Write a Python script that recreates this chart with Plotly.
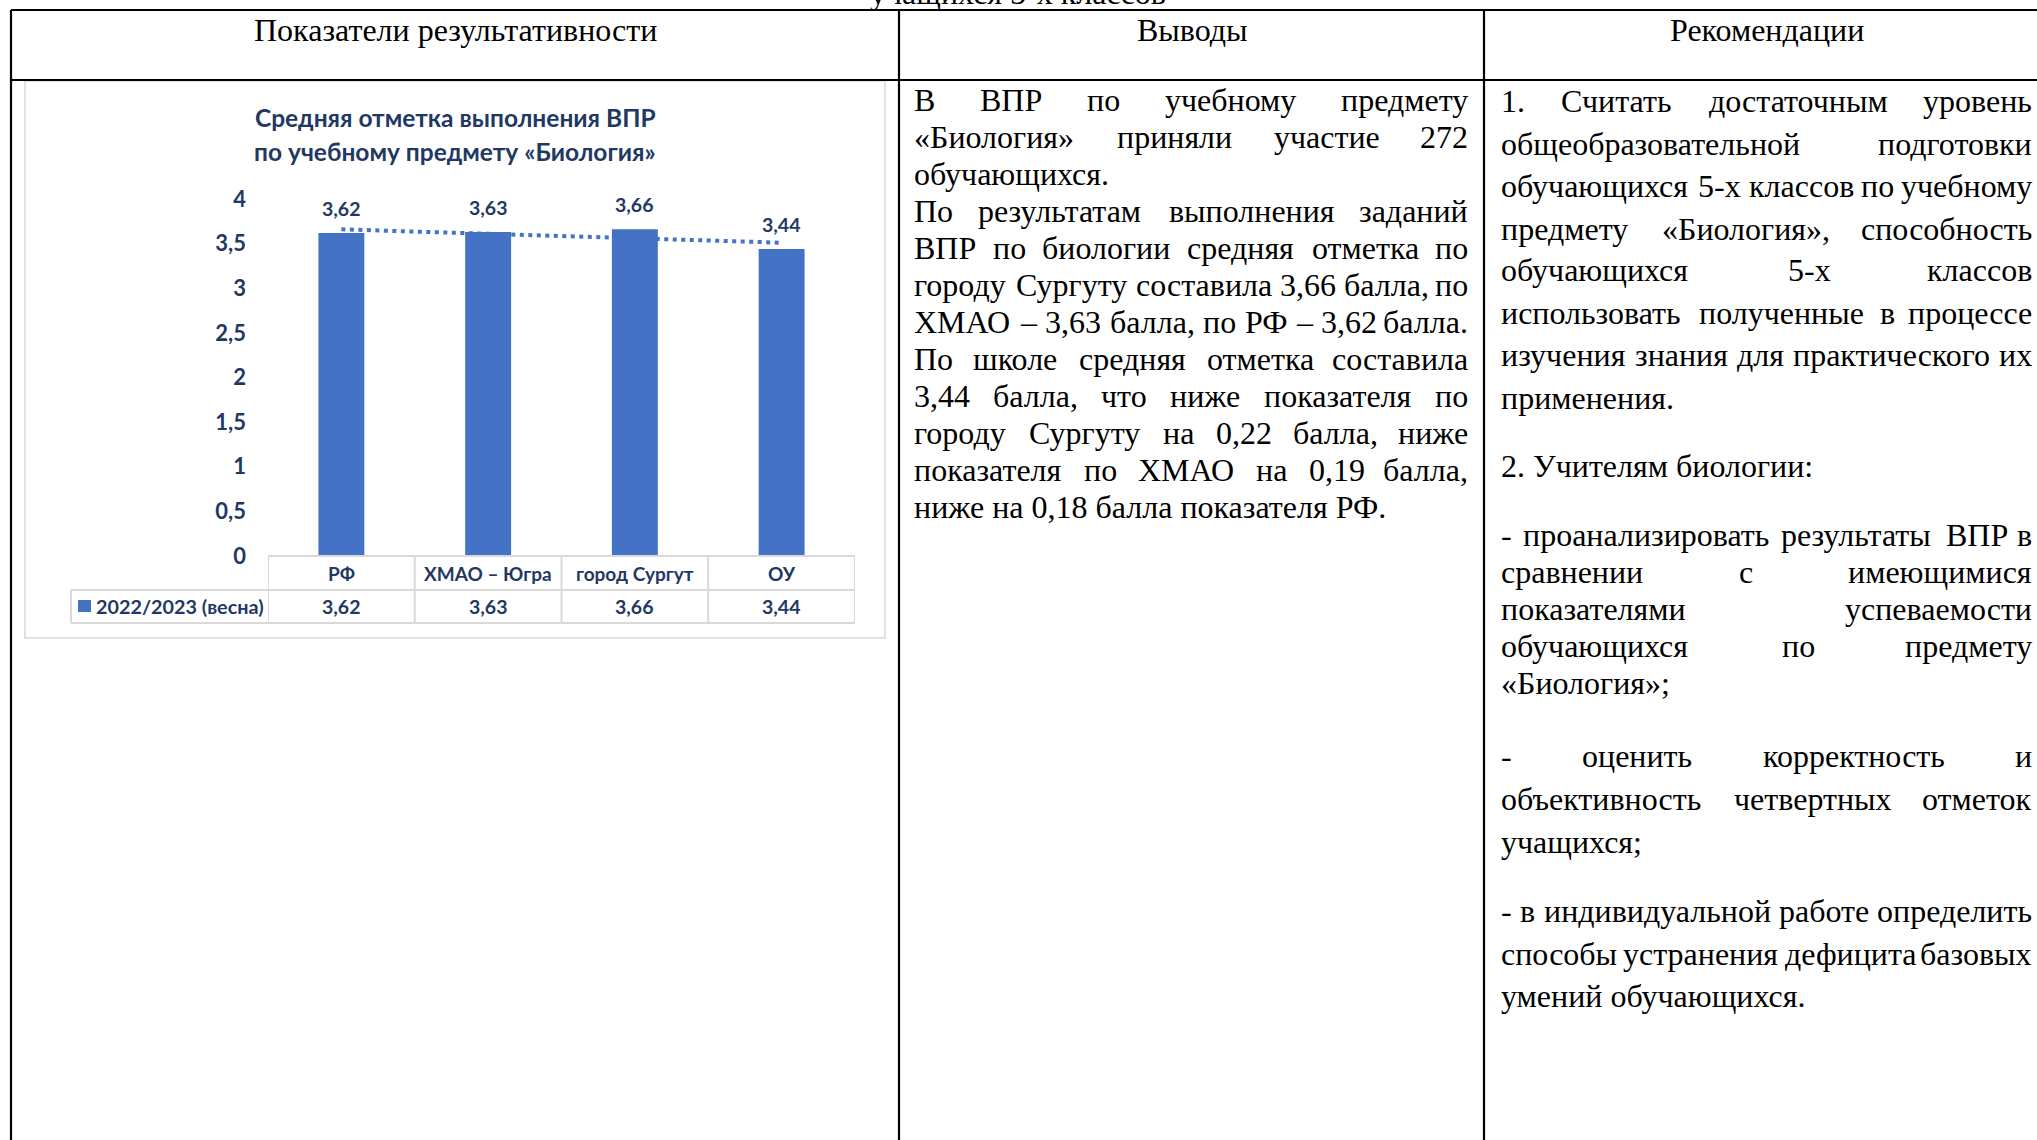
import plotly.graph_objects as go

W, H = 2037, 1140

# ---------------- chart data ----------------
categories = ["РФ", "ХМАО – Югра", "город Сургут", "ОУ"]
values = [3.62, 3.63, 3.66, 3.44]
series_name = "2022/2023 (весна)"
trend_values = [3.66, 3.51]          # dotted trendline read at РФ and ОУ
y_ticks = [0, 0.5, 1, 1.5, 2, 2.5, 3, 3.5, 4]
chart_title = ["Средняя отметка выполнения ВПР", "по учебному предмету «Биология»"]

# ---------------- document text ----------------
headers = ["Показатели результативности", "Выводы", "Рекомендации"]
top_cut_text = "учащихся 5-х классов"

conclusion_lines = [
    ("В ВПР по учебному предмету", True),
    ("«Биология» приняли участие 272", True),
    ("обучающихся.", False),
    ("По результатам выполнения заданий", True),
    ("ВПР по биологии средняя отметка по", True),
    ("городу Сургуту составила 3,66 балла, по", True),
    ("ХМАО – 3,63 балла, по РФ – 3,62 балла.", True),
    ("По школе средняя отметка составила", True),
    ("3,44 балла, что ниже показателя по", True),
    ("городу Сургуту на 0,22 балла, ниже", True),
    ("показателя по ХМАО на 0,19 балла,", True),
    ("ниже на 0,18 балла показателя РФ.", False),
]
recommend_lines = [
    ("1. Считать достаточным уровень", True),
    ("общеобразовательной подготовки", True),
    ("обучающихся 5-х классов по учебному", True),
    ("предмету «Биология», способность", True),
    ("обучающихся 5-х классов", True),
    ("использовать полученные в процессе", True),
    ("изучения знания для практического их", True),
    ("применения.", False),
    ("2. Учителям биологии:", False),
    ("- проанализировать результаты ВПР в", True),
    ("сравнении с имеющимися", True),
    ("показателями успеваемости", True),
    ("обучающихся по предмету", True),
    ("«Биология»;", False),
    ("- оценить корректность и", True),
    ("объективность четвертных отметок", True),
    ("учащихся;", False),
    ("- в индивидуальной работе определить", True),
    ("способы устранения дефицита базовых", True),
    ("умений обучающихся.", False),
]

# ---------------- layout constants (pixels) ----------------
conclusion_y = [100 + 37 * i for i in range(12)]
recommend_y = [101, 144, 186, 229, 270, 313, 355, 398, 466,
               535, 572, 609, 646, 683, 756, 799, 842, 911, 954, 996]

NAVY = "#1f3864"
BLUE = "#4472c4"
GRID = "#d9d9d9"
SERIF = "Liberation Serif"
SANS = "Lato"
BODY = 32


def px(x):
    return x / W


def py(y):
    return 1 - y / H


def fmt(v, nd=None):
    s = f"{v:.{nd}f}" if nd is not None else f"{v:g}"
    return s.replace(".", ",")


# Times New Roman advance widths (1/1000 em), for justified lines
TW = {'а': 444, 'б': 509, 'в': 472, 'г': 410, 'д': 509, 'е': 444, 'ж': 691, 'з': 395,
      'и': 535, 'й': 535, 'к': 486, 'л': 499, 'м': 633, 'н': 535, 'о': 500, 'п': 535,
      'р': 500, 'с': 444, 'т': 437, 'у': 500, 'ф': 648, 'х': 500, 'ц': 535, 'ч': 503,
      'ш': 770, 'щ': 770, 'ъ': 517, 'ы': 672, 'ь': 456, 'э': 429, 'ю': 747, 'я': 482,
      'А': 722, 'Б': 574, 'В': 667, 'Г': 578, 'Д': 682, 'Е': 611, 'Ж': 896, 'З': 501,
      'И': 722, 'К': 667, 'Л': 678, 'М': 889, 'Н': 722, 'О': 722, 'П': 722, 'Р': 556,
      'С': 667, 'Т': 611, 'У': 708, 'Ф': 790, 'Х': 722, 'Ч': 650, 'Ш': 1009, 'Э': 660,
      'Я': 667, ' ': 250, ',': 250, '.': 250, ':': 278, ';': 278, '-': 333, '–': 500,
      '«': 500, '»': 500}


def tw(s, size):
    return sum(TW.get(c, 500) for c in s) / 1000 * size


annotations = []


def add_text(text, x, y, size=BODY, anchor="left", family=SERIF, color="black", bold=False):
    annotations.append(dict(
        text=text, x=px(x), y=py(y), xref="paper", yref="paper",
        xanchor=anchor, yanchor="middle", showarrow=False, borderpad=0,
        font=dict(family=family, size=size, color=color, weight="bold" if bold else "normal"),
    ))


def add_line(text, justify, x0, x1, y):
    if not justify:
        add_text(text, x0, y)
        return
    words = text.split(" ")
    widths = [tw(w, BODY) for w in words]
    gap = (x1 - x0 - sum(widths)) / (len(words) - 1)
    x = x0
    for i, (w, wd) in enumerate(zip(words, widths)):
        if i == len(words) - 1:
            add_text(w, x1, y, anchor="right")
        else:
            add_text(w, x, y)
        x += wd + gap


# ---------------- figure ----------------
fig = go.Figure()

fig.add_trace(go.Bar(
    x=categories, y=values, name=series_name,
    marker=dict(color=BLUE, line=dict(width=0)),
    showlegend=False, hoverinfo="skip",
))
fig.add_trace(go.Scatter(
    x=[categories[0], categories[-1]], y=trend_values, mode="lines",
    line=dict(color=BLUE, width=4, dash="4px,4.5px"),
    showlegend=False, hoverinfo="skip",
))

# data labels above bars
for c, v in zip(categories, values):
    annotations.append(dict(
        text=fmt(v, 2), x=c, y=v, xref="x", yref="y", xanchor="center", yanchor="bottom",
        yshift=11, showarrow=False,
        font=dict(family=SANS, size=19.5, color=NAVY, weight="bold"),
    ))

# data table under the chart
for c, v in zip(categories, values):
    annotations.append(dict(
        text=c, x=c, y=py(573), xref="x", yref="paper", xanchor="center", yanchor="middle",
        showarrow=False, font=dict(family=SANS, size=19, color=NAVY, weight="bold"),
    ))
    annotations.append(dict(
        text=fmt(v, 2), x=c, y=py(606), xref="x", yref="paper", xanchor="center",
        yanchor="middle", showarrow=False,
        font=dict(family=SANS, size=19.5, color=NAVY, weight="bold"),
    ))
add_text(series_name, 95, 606, size=19.8, family=SANS, color=NAVY, bold=True)

# chart title
add_text(chart_title[0], 455, 118, size=24.5, anchor="center", family=SANS, color=NAVY, bold=True)
add_text(chart_title[1], 455, 152, size=24.5, anchor="center", family=SANS, color=NAVY, bold=True)

# document headers and texts
add_text(headers[0], 455, 30, anchor="center")
add_text(headers[1], 1192, 30, anchor="center")
add_text(headers[2], 1767, 30, anchor="center")
add_text(top_cut_text, 1018, -7, anchor="center")

for (t, j), y in zip(conclusion_lines, conclusion_y):
    add_line(t, j, 913, 1469, y)
for (t, j), y in zip(recommend_lines, recommend_y):
    add_line(t, j, 1500, 2033, y)

shapes = []
# document table borders
BLK = dict(color="black", width=2.2)
for y in (10, 80):
    shapes.append(dict(type="line", xref="paper", yref="paper", x0=px(11), x1=px(W + 5),
                       y0=py(y), y1=py(y), line=BLK))
for x in (11, 899, 1484):
    shapes.append(dict(type="line", xref="paper", yref="paper", x0=px(x), x1=px(x),
                       y0=py(10), y1=py(H + 5), line=BLK))
# chart frame
shapes.append(dict(type="rect", xref="paper", yref="paper", x0=px(25), x1=px(885),
                   y0=py(638), y1=py(81), line=dict(color=GRID, width=1.5), layer="below"))
# data-table grid
G = dict(color=GRID, width=2)
n = len(categories)
for y in (556, 590, 623):
    shapes.append(dict(type="line", xref="x", yref="paper", x0=-0.5, x1=n - 0.5,
                       y0=py(y), y1=py(y), line=G))
for i in range(n + 1):
    shapes.append(dict(type="line", xref="x", yref="paper", x0=i - 0.5, x1=i - 0.5,
                       y0=py(556), y1=py(623), line=G))
for y in (590, 623):
    shapes.append(dict(type="line", xref="paper", yref="paper", x0=px(71), x1=px(268),
                       y0=py(y), y1=py(y), line=G))
shapes.append(dict(type="line", xref="paper", yref="paper", x0=px(71), x1=px(71),
                   y0=py(590), y1=py(623), line=G))
# legend swatch
shapes.append(dict(type="rect", xref="paper", yref="paper", x0=px(78), x1=px(91),
                   y0=py(612), y1=py(600), line=dict(width=0), fillcolor=BLUE))

fig.update_layout(
    width=W, height=H,
    margin=dict(l=0, r=0, t=0, b=0, autoexpand=False),
    paper_bgcolor="white", plot_bgcolor="white",
    separators=", ",
    bargap=0.687,
    xaxis=dict(domain=[px(268), px(855)], type="category", range=[-0.5, n - 0.5],
               showticklabels=False, showgrid=False, zeroline=False, showline=False,
               fixedrange=True, automargin=False),
    yaxis=dict(domain=[py(556), py(199)], range=[0, 4], tickvals=y_ticks,
               ticktext=[fmt(v) for v in y_ticks], showgrid=False, zeroline=False,
               showline=False, ticks="", ticklabelstandoff=21, fixedrange=True,
               automargin=False,
               tickfont=dict(family=SANS, size=22, color=NAVY, weight="bold")),
    annotations=annotations,
    shapes=shapes,
    hovermode=False,
)

fig.write_html("out.html", config={"displayModeBar": False},
               post_script="document.body.style.margin='0';document.body.style.overflow='hidden';")
